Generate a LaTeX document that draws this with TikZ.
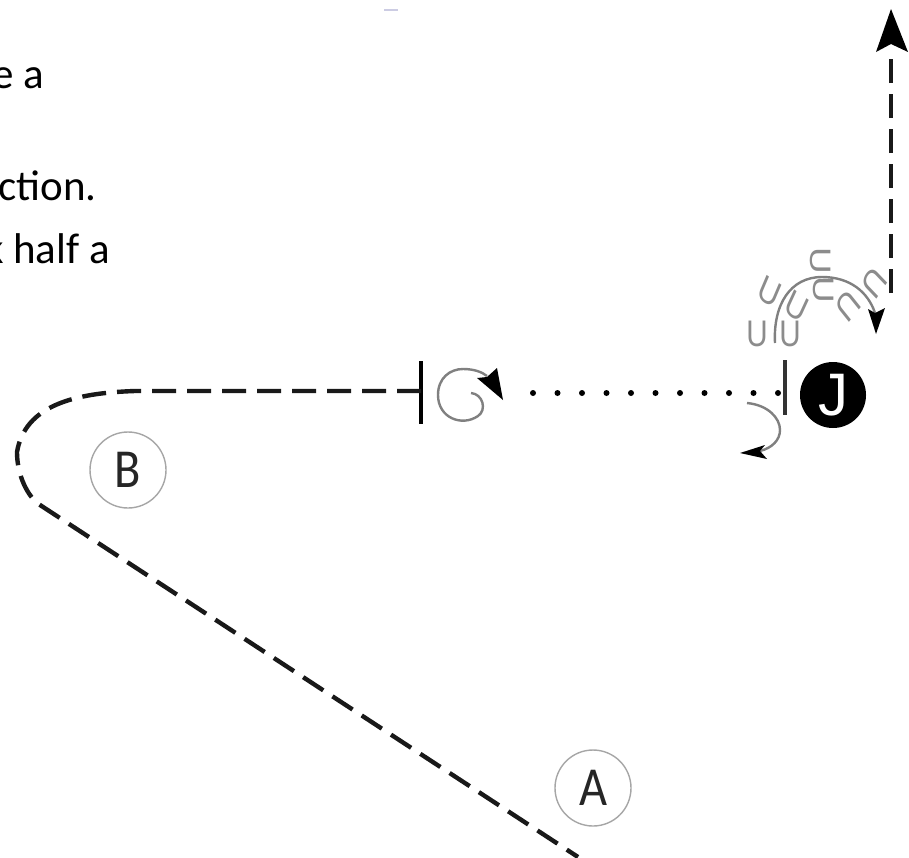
\documentclass[tikz,border=0pt]{standalone}
\usepackage{fontspec}
\setmainfont{Carlito}
\newfontfamily\lsans{Liberation Sans}
\usetikzlibrary{arrows.meta,calc}
\newcommand{\fsz}[1]{\fontsize{#1}{#1}\selectfont}
\tikzset{
  x=1pt,y=-1pt,
  bodytext/.style={anchor=base east,inner sep=0pt,font=\fsz{43}},
  labelcircle/.style={circle,draw=black!35,line width=1.4pt,minimum size=76pt,inner sep=0pt,font=\fsz{55},text=black!85},
  jcircle/.style={circle,fill=black,minimum size=66pt,inner sep=0pt,font=\lsans\fsz{60},text=white},
  dashline/.style={line width=4.4pt,draw=black!90,dash pattern=on 24pt off 11pt},
  bar/.style={line width=4pt,draw=black},
  ulabel/.style={inner sep=0pt,text=black!45,font=\lsans\fsz{37},xscale=.8},
  grayarrow/.style={line width=2.4pt,draw=black!50},
}
\begin{document}
\begin{tikzpicture}
\useasboundingbox (0,0) rectangle (909,857);
\clip (0,0) rectangle (909,857);
\fill[white] (0,0) rectangle (909,857);

% clipped body text
\node[bodytext] (t1) at (44,88) {e a};
\node[bodytext] (t2) at (97,200) {ction.};
\node[bodytext] (t3) at (110,263) {k half a};

% stray mark at top
\coordinate (m1) at (384,10);
\coordinate (m2) at (398,10);
\draw[line width=2.5pt,draw=black!55!blue!20!white] (m1) -- (m2);

% labels
\node[labelcircle] (B) at (128,470) {\scalebox{.88}[1]{B}};
\node[labelcircle] (A) at (593,788) {\scalebox{.88}[1]{A}};
\node[jcircle] (J) at (833,395) {J};

% bars
\coordinate (b1t) at (421,361);
\coordinate (b1b) at (421,424);
\coordinate (b2t) at (785,360);
\coordinate (b2b) at (785,415);
\draw[bar] (b1t) -- (b1b);
\draw[bar,line width=3.5pt,draw=black!80] (b2t) -- (b2b);

% dashed path
\coordinate (d0) at (421,391);
\coordinate (d1) at (135,391);
\coordinate (d1b) at (17,452);
\coordinate (d2) at (37,503);
\coordinate (d3) at (578,857);
\draw[dashline] (d0) -- (d1) .. controls (75,393) and (25,405) .. (d1b)
  .. controls (17,472) and (25,492) .. (d2) -- (d3);

% dotted line
\coordinate (p0) at (533,393);
\coordinate (p1) at (783,393);
\draw[line width=6pt,line cap=round,dash pattern=on 0pt off 24.5pt] (p0) -- (p1);

% top arrow
\coordinate (v0) at (891,293);
\coordinate (v1) at (891,9);
\draw[dashline] (v0) -- (891,50);
\fill[black] (v1) -- (908,52) -- (891,44) -- (876,52) -- cycle;

% spiral
\coordinate (s0) at (471,393);
\coordinate (s1) at (487,376);
\draw[grayarrow] (s0) .. controls (483,394) and (487,410) .. (478,416)
  .. controls (462,427) and (438,418) .. (438,395)
  .. controls (438,378) and (450,369) .. (463,369)
  .. controls (474,369) and (482,372) .. (s1);
\fill[black] (503,400) -- (477,378) -- (487,377) -- (497,368) -- cycle;

% small arrow
\coordinate (a0) at (747,403);
\coordinate (a1) at (760,451);
\draw[grayarrow] (a0) .. controls (768,405) and (780,418) .. (780,430)
  .. controls (780,440) and (772,448) .. (a1);
\fill[black] (740,453) -- (765,445) -- (760,451) -- (767,459) -- cycle;

% big arc
\coordinate (c0) at (775,343);
\coordinate (c1) at (875,313);
\draw[grayarrow] (c0) .. controls (773,305) and (790,277) .. (822,277)
  .. controls (850,277) and (868,292) .. (c1);
\fill[black] (876,334) -- (868,309) -- (875,313) -- (885,308) -- cycle;

% U letters
\node[ulabel] (u1) at (757,334) {U};
\node[ulabel] (u2) at (790,334) {U};
\node[ulabel,rotate=-28] (u3) at (770,292) {U};
\node[ulabel,rotate=-30] (u4) at (797,306) {U};
\node[ulabel,rotate=-90] (u5) at (821,261) {U};
\node[ulabel,rotate=-90] (u6) at (824,290) {U};
\node[ulabel,rotate=-135] (u7) at (848,306) {U};
\node[ulabel,rotate=-130] (u8) at (874,283) {U};
\end{tikzpicture}
\end{document}
